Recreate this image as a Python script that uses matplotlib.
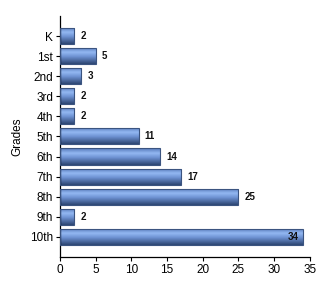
import matplotlib

matplotlib.use("Agg")
import matplotlib.pyplot as plt
import numpy as np
from matplotlib.colors import LinearSegmentedColormap

# --- data ----------------------------------------------------------------
grades = ["K", "1st", "2nd", "3rd", "4th", "5th", "6th", "7th", "8th", "9th", "10th"]
counts = [2, 5, 3, 2, 2, 11, 14, 17, 25, 2, 34]
x_ticks = [0, 5, 10, 15, 20, 25, 30, 35]
# -------------------------------------------------------------------------

plt.rcParams["font.family"] = ["Liberation Sans", "DejaVu Sans"]

bar_cmap = LinearSegmentedColormap.from_list(
    "bar", [(0.0, "#5577b8"), (0.3, "#93b8f2"), (0.55, "#6f93d4"), (1.0, "#2d4672")]
)
grad = np.linspace(0, 1, 64).reshape(-1, 1)

fig = plt.figure(figsize=(3.3, 2.9), dpi=100)
ax = fig.add_axes([0.182, 0.114, 0.757, 0.831])

y = np.arange(len(grades))
bars = ax.barh(y, counts, height=0.8, color="none", edgecolor="#3b5480", linewidth=0.8, zorder=3)
for b in bars:
    x0, y0 = b.get_x(), b.get_y()
    w, h = b.get_width(), b.get_height()
    im = ax.imshow(grad, cmap=bar_cmap, aspect="auto", extent=(x0, x0 + w, y0 + h, y0),
                   interpolation="bilinear", zorder=2)
    im.set_clip_path(b)

for yi, c in zip(y, counts):
    if c == max(counts):
        ax.text(c - 0.6, yi, str(c), ha="right", va="center", fontsize=7, fontweight="bold", color="#111111")
    else:
        ax.text(c + 0.85, yi, str(c), ha="left", va="center", fontsize=7, fontweight="bold", color="#111111")

ax.set_xlim(0, 35)
ax.set_ylim(11, -1)
ax.set_xticks(x_ticks)
ax.set_yticks(y)
ax.set_yticklabels(grades)
ax.tick_params(axis="both", labelsize=8.5, length=3, width=0.8, direction="out", pad=2)
ax.set_ylabel("Grades", fontsize=8.5, labelpad=5)
for s in ("top", "right"):
    ax.spines[s].set_visible(False)
for s in ("left", "bottom"):
    ax.spines[s].set_linewidth(0.9)

fig.savefig("out.png", dpi=100)
